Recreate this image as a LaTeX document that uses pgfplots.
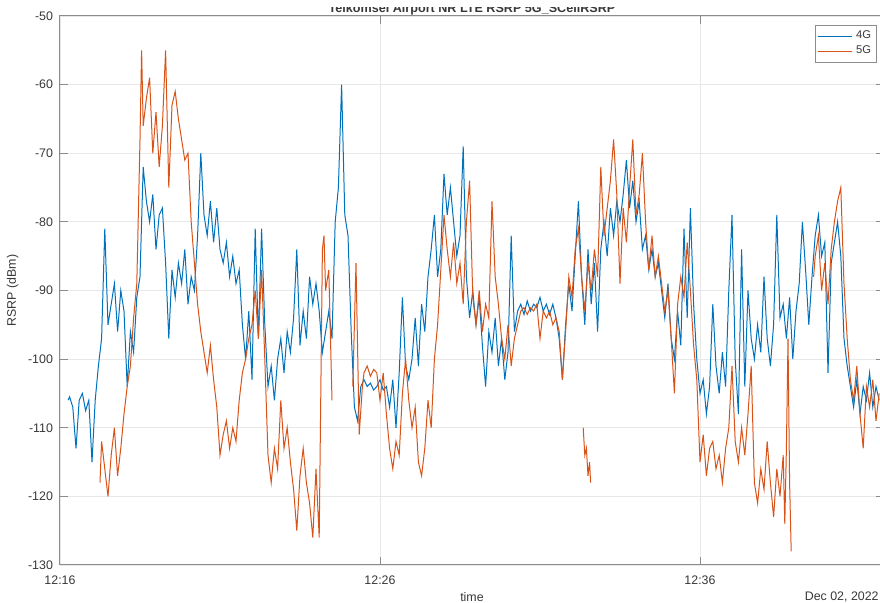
\documentclass[border=0pt]{standalone}
\usepackage{pgfplots}
\pgfplotsset{compat=1.18}
\usepackage{fontspec}
\setmainfont{Liberation Sans}
\definecolor{mblue}{rgb}{0,0.447,0.741}
\definecolor{morange}{rgb}{0.85,0.325,0.098}
\definecolor{axgray}{gray}{0.55}
\definecolor{txtgray}{gray}{0.22}
\begin{document}
\begin{tikzpicture}
\begin{axis}[
  scale only axis,
  width=412pt, height=274.5pt,
  xmin=0, xmax=25.75, ymin=-130, ymax=-50,
  xtick={0,10,20}, xticklabels={12:16,12:26,12:36},
  ytick={-130,-120,-110,-100,-90,-80,-70,-60,-50},
  /pgf/number format/assume math mode=true,
  tick label style={font=\fontsize{6.2}{7}\selectfont, text=txtgray},
  xticklabel style={yshift=-2pt},
  label style={font=\fontsize{6.2}{7}\selectfont, text=txtgray},
  xlabel={time}, ylabel={RSRP (dBm)},
  xlabel style={at={(rel axis cs:0.5,0)}, anchor=center, yshift=-15.8pt},
  ylabel style={yshift=-2pt},
  grid=major,
  major grid style={gray!18, line width=0.4pt},
  axis line style={axgray, line width=0.5pt},
  tick style={axgray, line width=0.5pt},
  major tick length=4pt,
  tick align=inside,
  unbounded coords=jump,
  legend style={at={(rel axis cs:1,1)}, anchor=north east, xshift=-3.5pt, yshift=-4.5pt,
    draw=axgray, line width=0.4pt, font=\fontsize{5.6}{6.5}\selectfont, text=txtgray,
    inner sep=0.8pt, row sep=-2pt, legend cell align=left},
  legend image post style={line width=0.4pt},
]
\coordinate (ll) at (rel axis cs:0,0);
\coordinate (tc) at (rel axis cs:0.5,1);
\addplot[mblue, line width=0.5pt] coordinates {
(0.25,-106)(0.3,-105.5)(0.4,-107)(0.5,-113)(0.6,-106)(0.7,-105)(0.8,-107.5)(0.9,-106)(1.0,-115)(1.1,-106)
(1.2,-101)(1.3,-97)(1.4,-81)(1.5,-95)(1.6,-92)(1.7,-89)(1.8,-96)(1.9,-90)
(2.0,-93)(2.1,-104)(2.2,-96)(2.3,-99)(2.4,-91)(2.5,-88)(2.6,-72)(2.7,-77)(2.8,-80)(2.9,-76)(3.0,-84)(3.1,-79)
(3.2,-78)(3.3,-86)(3.4,-97)(3.5,-87)(3.6,-91)(3.7,-86)(3.8,-89)(3.9,-84)(4.0,-92)(4.1,-88)(4.2,-90)
(4.3,-82)(4.4,-70)(4.5,-79)(4.6,-82)(4.7,-77)(4.8,-83)(4.9,-78)(5.0,-84)
(5.1,-86)(5.2,-83)(5.3,-88)(5.4,-85)(5.5,-89)(5.6,-87)
(5.7,-95)(5.8,-100)(5.9,-93)(6.0,-103)(6.1,-81)(6.2,-97)(6.3,-81)(6.4,-95)
(6.5,-104)(6.6,-101)(6.7,-106)(6.8,-100)(6.9,-97)(7.0,-102)(7.1,-96)(7.2,-99)(7.3,-94)
(7.4,-84)(7.5,-98)(7.6,-93)(7.7,-97)(7.8,-88)(7.9,-92)(8.0,-89)(8.1,-93)(8.2,-99)(8.3,-96)
(8.4,-93)(8.5,-97)(8.6,-80)(8.7,-75)(8.8,-60)(8.9,-79)(9.0,-82)(9.1,-96)(9.2,-107)
(9.3,-109)(9.4,-104)(9.5,-103)(9.6,-104)(9.7,-103.5)(9.8,-104.5)(9.9,-104)(10.0,-103)(10.1,-104.5)(10.2,-104)
(10.3,-107)(10.4,-103)(10.5,-110)(10.6,-102)(10.7,-91)(10.8,-101)(10.9,-103)(11.0,-100)(11.1,-94)(11.2,-101)
(11.3,-92)(11.4,-96)(11.5,-88)(11.6,-84)(11.7,-79)(11.8,-88)(11.9,-84)(12.0,-73)(12.1,-79)(12.2,-75)
(12.3,-80)(12.4,-85)(12.5,-82)(12.6,-69)(12.7,-88)(12.8,-94)(12.9,-90)(13.0,-95)(13.1,-91)
(13.2,-98)(13.3,-104)(13.4,-96)(13.5,-99)(13.6,-94)(13.7,-101)(13.8,-97)(13.9,-103)(14.0,-99)
(14.1,-82)(14.2,-96)(14.3,-93)(14.4,-92)(14.5,-93.5)(14.6,-91.5)(14.7,-93)(14.8,-92)(14.9,-92.5)(15.0,-91)
(15.1,-93)(15.2,-92)(15.3,-93.5)(15.4,-92)(15.5,-94)(15.6,-97)(15.7,-103)
(15.8,-95)(15.9,-89)(16.0,-93)(16.1,-85)(16.2,-77)(16.3,-88)(16.4,-95)(16.5,-84)(16.6,-92)(16.7,-86)(16.8,-96)
(16.9,-84)(17.0,-80)(17.1,-85)(17.2,-78)(17.3,-82)(17.4,-77)(17.5,-80)(17.6,-76)(17.7,-71)(17.8,-78)
(17.9,-74)(18.0,-80)(18.1,-77)(18.2,-84)(18.3,-82)(18.4,-87)(18.5,-84)(18.6,-88)(18.7,-86)
(18.8,-90)(18.9,-94)(19.0,-89)(19.1,-97)(19.2,-100)(19.3,-93)(19.4,-98)(19.5,-81)(19.6,-94)(19.7,-78)(19.8,-92)
(19.9,-100)(20.0,-105)(20.1,-103)(20.2,-108)(20.3,-104)(20.4,-92)(20.5,-101)(20.6,-105)
(20.7,-99)(20.8,-104)(20.9,-90)(21.0,-79)(21.1,-100)(21.2,-108)(21.3,-84)(21.4,-104)(21.5,-90)(21.6,-97)
(21.7,-100)(21.8,-95)(21.9,-99)(22.0,-88)(22.1,-97)(22.2,-101)(22.3,-95)(22.4,-79)(22.5,-94)
(22.6,-92)(22.7,-97)(22.8,-91)(22.9,-100)(23.0,-93)(23.1,-89)(23.2,-80)(23.3,-87)(23.4,-95)(23.5,-88)
(23.6,-82)(23.7,-79)(23.8,-85)(23.9,-83)(24.0,-102)(24.1,-86)(24.2,-83)(24.3,-80)(24.4,-85)(24.5,-97)(24.6,-101)
(24.7,-104)(24.8,-107)(24.9,-103)(25.0,-108)(25.1,-104)(25.2,-106)(25.3,-102)(25.4,-107)(25.5,-104)(25.6,-106)
};
\addlegendentry{4G}
\addplot[morange, line width=0.5pt] coordinates {
(1.25,-118)(1.3,-112)(1.4,-116)(1.5,-120)(1.6,-114)(1.7,-110)(1.8,-117)(1.9,-113)(2.0,-108)(2.1,-104)(2.2,-101)(2.3,-94)(2.4,-89)(2.5,-68)(2.55,-55)
(2.6,-66)(2.7,-62)(2.8,-59)(2.9,-70)(3.0,-64)(3.1,-72)(3.2,-66)(3.3,-55)(3.4,-75)(3.5,-63)(3.6,-61)(3.7,-65)(3.8,-68)(3.9,-71)(4.0,-70)
(4.1,-80)(4.2,-86)(4.3,-92)(4.4,-96)(4.5,-99)(4.6,-102)(4.7,-98)(4.8,-103)(4.9,-107)(5.0,-114)
(5.1,-111)(5.2,-109)(5.3,-113)(5.4,-110)(5.5,-112)(5.6,-106)(5.7,-102)(5.8,-100)(5.9,-97)(6.0,-95)(6.1,-90)(6.2,-97)(6.3,-87)
(6.4,-100)(6.5,-114)(6.6,-118)(6.7,-113)(6.8,-116)(6.9,-106)(7.0,-113)(7.1,-110)(7.2,-115)(7.3,-119)(7.4,-125)(7.5,-117)
(7.6,-113)(7.7,-118)(7.8,-121)(7.9,-126)(8.0,-116)(8.1,-126)(8.2,-84)(8.25,-82)(8.3,-90)(8.4,-87)(8.5,-106)(8.6,nan)
(9.15,-104)(9.25,-86)(9.35,-111)(9.45,-104)(9.5,-102)(9.6,-101)(9.7,-102.5)(9.8,-101.5)(9.9,-102)(10.0,-106)(10.1,-102)
(10.2,-108)(10.3,-113)(10.4,-116)(10.5,-112)(10.6,-114)(10.7,-105)(10.8,-100)(10.9,-106)(11.0,-110)(11.1,-107)(11.2,-115)(11.3,-117)(11.4,-113)
(11.5,-106)(11.6,-110)(11.7,-100)(11.8,-95)(11.9,-87)(12.0,-79)(12.1,-84)(12.2,-88)(12.3,-83)(12.4,-89)(12.5,-86)(12.6,-92)(12.7,-80)(12.8,-74)
(12.9,-91)(13.0,-95)(13.1,-90)(13.2,-96)(13.3,-92)(13.4,-94)(13.5,-77)(13.6,-88)(13.7,-92)(13.8,-97)(13.9,-100)(14.0,-95)(14.1,-101)(14.2,-97)(14.3,-95)
(14.4,-93)(14.5,-92.5)(14.6,-93.5)(14.7,-92.5)(14.8,-93)(14.9,-92)(15.0,-97)(15.1,-93)(15.2,-94)(15.3,-93)(15.4,-95)(15.5,-94)(15.6,-96)(15.7,-103)
(15.8,-96)(15.9,-88)(16.0,-91)(16.1,-84)(16.2,-81)(16.3,-88)(16.4,-93)(16.5,-86)(16.6,-90)(16.7,-84)(16.8,-88)(16.9,-72)(17.0,-82)(17.1,-78)
(17.2,-74)(17.3,-68)(17.4,-76)(17.5,-89)(17.6,-78)(17.7,-83)(17.8,-75)(17.9,-68)(18.0,-79)(18.1,-76)(18.2,-70)(18.3,-80)
(18.4,-87)(18.5,-82)(18.6,-88)(18.7,-85)(18.8,-89)(18.9,-93)(19.0,-90)(19.1,-97)(19.2,-105)(19.3,-92)(19.4,-88)(19.5,-91)(19.6,-83)(19.7,-90)
(19.8,-98)(19.9,-103)(20.0,-115)(20.1,-111)(20.2,-117)(20.3,-113)(20.4,-112)(20.5,-116)(20.6,-114)(20.7,-118)(20.8,-113)(20.9,-110)(21.0,-101)(21.1,-112)
(21.2,-115)(21.3,-110)(21.4,-114)(21.5,-108)(21.6,-101)(21.7,-118)(21.8,-121)(21.9,-116)(22.0,-119)(22.1,-112)(22.2,-118)(22.3,-123)
(22.4,-116)(22.5,-120)(22.6,-114)(22.65,-124)(22.7,-113)(22.75,-97)(22.8,-118)(22.85,-128)(22.9,nan)
(23.55,-88)(23.6,-85)(23.7,-82)(23.8,-90)(23.9,-86)(24.0,-92)(24.1,-84)(24.2,-80)(24.3,-77)(24.4,-75)(24.5,-89)
(24.6,-97)(24.7,-103)(24.8,-106)(24.9,-101)(25.0,-108)(25.1,-113)(25.2,-104)(25.3,-107)(25.4,-103)(25.5,-109)(25.6,-105)
};
\addlegendentry{5G}
\addplot[morange, line width=0.5pt, forget plot] coordinates {
(16.35,-110)(16.4,-114)(16.45,-113)(16.5,-117)(16.55,-115)(16.58,-118)
};
\end{axis}
\node[anchor=east, font=\fontsize{6.2}{7}\selectfont, text=txtgray, inner sep=0pt] at ([shift={(409.5pt,-15.8pt)}]ll) {Dec 02, 2022};
% title: only its lower part shows in the cropped reference
\node[anchor=base, font=\bfseries\fontsize{6.3}{7.5}\selectfont, text=txtgray, inner sep=0pt] at ([yshift=1.6pt]tc) {Telkomsel Airport NR LTE RSRP 5G\_SCellRSRP};
\fill[white] ([shift={(-220pt,4.6pt)}]tc) rectangle ([shift={(220pt,9pt)}]tc);
\pgfresetboundingbox
\path[use as bounding box] ([shift={(-30pt,-19pt)}]ll) rectangle ([shift={(410pt,282.5pt)}]ll);
\end{tikzpicture}
\end{document}
